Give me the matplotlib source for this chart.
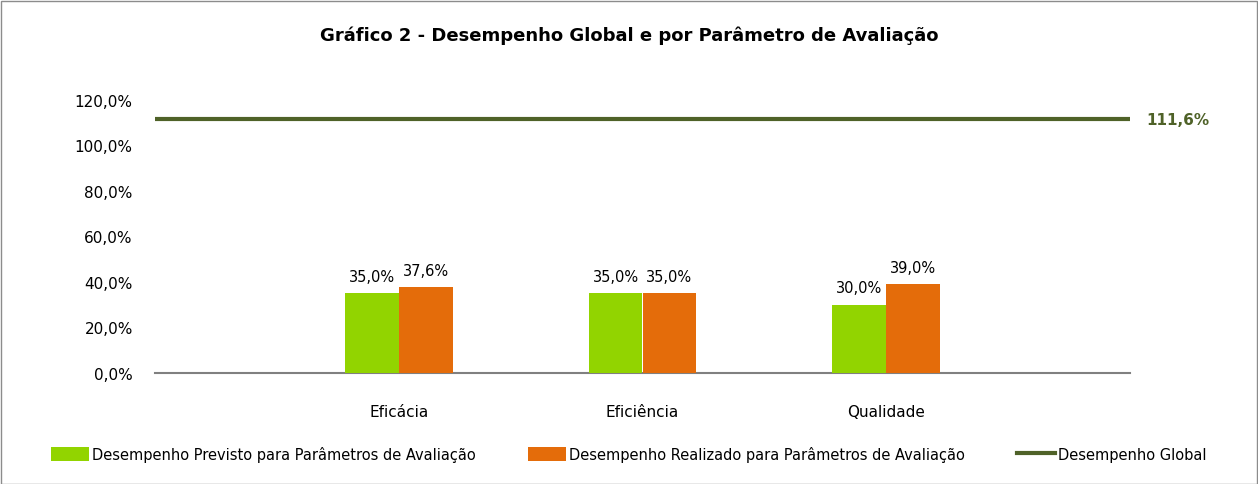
import matplotlib
matplotlib.use("Agg")
import matplotlib.pyplot as plt
from matplotlib.patches import Rectangle, Patch
from matplotlib.lines import Line2D
import numpy as np

categories = ["Eficácia", "Eficiência", "Qualidade"]
previsto = [35.0, 35.0, 30.0]
realizado = [37.6, 35.0, 39.0]
global_value = 111.6
yticks = [0, 20, 40, 60, 80, 100, 120]

plt.rcParams['font.family'] = ['DejaVu Sans']

W, H = 1258, 485
fig = plt.figure(figsize=(W / 100, H / 100), dpi=100)
fig.patches.append(Rectangle((0.5 / W, 0.5 / H), 1 - 2 / W, 1 - 2 / H, transform=fig.transFigure,
                             fill=False, edgecolor="#8c8c8c", linewidth=1.0))

ax = fig.add_axes([155 / W, 1 - 374 / H, (1130 - 155) / W, (374 - 101) / H])
green = "#92D400"
orange = "#E46C0A"
olive = "#4F6228"

x = np.arange(1, len(categories) + 1)
bw = 0.221
ax.bar(x - bw / 2, previsto, width=bw, color=green, zorder=3)
ax.bar(x + bw / 2, realizado, width=bw, color=orange, zorder=3)
ax.plot([0, len(categories) + 1], [global_value, global_value], color=olive, lw=3, zorder=3,
        solid_capstyle="butt")

for xi, v in zip(x, previsto):
    ax.annotate(f"{v:.1f}%".replace(".", ","), (xi - bw / 2, v), xytext=(0, 7),
                textcoords="offset points", ha="center", va="bottom", fontsize=10.5)
for xi, v in zip(x, realizado):
    ax.annotate(f"{v:.1f}%".replace(".", ","), (xi + bw / 2, v), xytext=(0, 7),
                textcoords="offset points", ha="center", va="bottom", fontsize=10.5)

ax.annotate(f"{global_value:.1f}%".replace(".", ","), (len(categories) + 1, global_value),
            xytext=(12, 0), textcoords="offset points", ha="left", va="center",
            fontsize=11, fontweight="bold", color=olive, annotation_clip=False)

ax.set_xlim(0, len(categories) + 1)
ax.set_ylim(0, 120)
ax.set_xticks(x)
ax.set_xticklabels(categories, fontsize=11)
ax.set_yticks(yticks)
ax.set_yticklabels([f"{v:.1f}%".replace(".", ",") for v in yticks], fontsize=11)
ax.tick_params(axis="both", length=0)
ax.tick_params(axis="x", pad=22)
ax.tick_params(axis="y", pad=16)
for s in ["top", "right", "left"]:
    ax.spines[s].set_visible(False)
ax.spines["bottom"].set_color("#808080")
ax.spines["bottom"].set_linewidth(1.5)

fig.text(0.5, 1 - 36 / H, "Gráfico 2 - Desempenho Global e por Parâmetro de Avaliação",
         ha="center", va="center", fontsize=13, fontweight="bold")

handles = [Patch(facecolor=green, edgecolor="none"),
           Patch(facecolor=orange, edgecolor="none"),
           Line2D([0], [0], color=olive, lw=3)]
labels = ["Desempenho Previsto para Parâmetros de Avaliação",
          "Desempenho Realizado para Parâmetros de Avaliação",
          "Desempenho Global"]
fig.legend(handles, labels, loc="center", bbox_to_anchor=(0.5, 1 - 455 / H), ncol=3,
           frameon=False, fontsize=10.5, handlelength=2.6, handleheight=1.0,
           handletextpad=0.2, columnspacing=3.6)

fig.savefig("out.png", dpi=100)
